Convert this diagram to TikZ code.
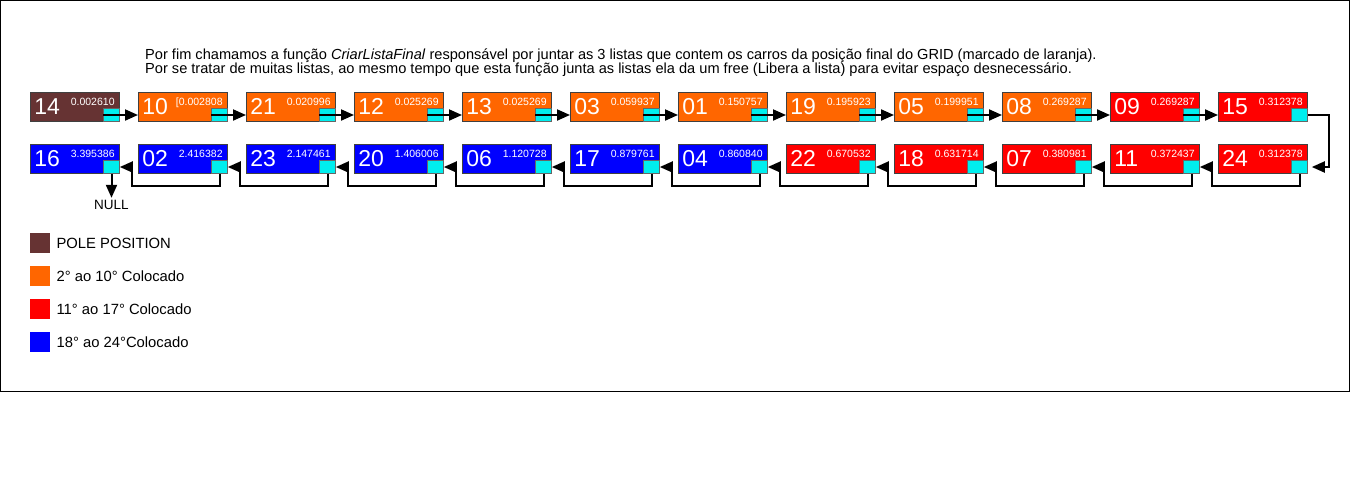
\documentclass[tikz,border=0pt]{standalone}
\usepackage{fontspec}
\setmainfont{Liberation Sans}
\usetikzlibrary{arrows.meta,positioning}

\definecolor{corpole}{RGB}{102,51,51}
\definecolor{corlaranja}{RGB}{255,102,0}
\definecolor{corvermelho}{RGB}{255,0,0}
\definecolor{corazul}{RGB}{0,0,255}
\definecolor{corcyan}{RGB}{0,238,238}

\begin{document}
\begin{tikzpicture}[x=1pt,y=-1pt,
  carro/.style={draw=black!75, line width=0.8pt, anchor=north west,
    minimum width=89pt, minimum height=29pt, inner xsep=4pt, inner ysep=0pt,
    text width=81pt, align=left, text=white, font=\fontsize{23}{23}\selectfont},
  valor/.style={anchor=north east, inner sep=0pt, text=white,
    font=\fontsize{10.5}{10.5}\selectfont},
  ponteiro/.style={draw=black!60, line width=0.6pt, fill=corcyan, anchor=south east,
    minimum width=16pt, minimum height=13pt, inner sep=0pt},
  ligacao/.style={line width=2pt, -{Triangle[length=13pt,width=11pt]}},
  legenda/.style={minimum size=20pt, inner sep=0pt, anchor=north west},
  texto/.style={inner sep=0pt, font=\fontsize{14.8}{14.8}\selectfont},
  cabec/.style={inner sep=0pt, anchor=base west, font=\fontsize{14.6}{14.6}\selectfont}]

% Parametros
\def\xini{30}    % x da primeira caixa
\def\passo{108}  % distancia entre caixas
\def\ytopo{92}   % linha de cima
\def\ybase{144}  % linha de baixo

% Moldura
\useasboundingbox (0,0) rectangle (1350,491);
\draw[line width=1pt] (0.5,0.5) rectangle (1349.5,391.5);

% Texto
\node[cabec] (linha1) at (145,59) {Por fim chamamos a função \textit{CriarListaFinal} responsável por juntar as 3 listas que contem os carros da posição final do GRID (marcado de laranja).};
\node[cabec] (linha2) at (145,73) {Por se tratar de muitas listas, ao mesmo tempo que esta função junta as listas ela da um free (Libera a lista) para evitar espaço desnecessário.};

% Lista de cima
\foreach \num/\val/\cor [count=\i from 0] in {14/0.002610/corpole, 10/{[0.002808}/corlaranja,
    21/0.020996/corlaranja, 12/0.025269/corlaranja, 13/0.025269/corlaranja,
    03/0.059937/corlaranja, 01/0.150757/corlaranja, 19/0.195923/corlaranja,
    05/0.199951/corlaranja, 08/0.269287/corlaranja, 09/0.269287/corvermelho,
    15/0.312378/corvermelho} {
  \node[carro, fill=\cor] (t\i) at (\xini+\i*\passo,\ytopo) {\num};
  \node[valor] (vt\i) at ([xshift=-5pt,yshift=-6pt]t\i.north east) {\val};
  \node[ponteiro] (pt\i) at (t\i.south east) {};
}

% Lista de baixo
\foreach \num/\val/\cor [count=\i from 0] in {16/3.395386/corazul, 02/2.416382/corazul,
    23/2.147461/corazul, 20/1.406006/corazul, 06/1.120728/corazul,
    17/0.879761/corazul, 04/0.860840/corazul, 22/0.670532/corvermelho,
    18/0.631714/corvermelho, 07/0.380981/corvermelho, 11/0.372437/corvermelho,
    24/0.312378/corvermelho} {
  \node[carro, fill=\cor] (b\i) at (\xini+\i*\passo,\ybase) {\num};
  \node[valor] (vb\i) at ([xshift=-5pt,yshift=-6pt]b\i.north east) {\val};
  \node[ponteiro] (pb\i) at (b\i.south east) {};
}

% Ligacoes de cima
\foreach \i [evaluate=\i as \j using {int(\i+1)}] in {0,...,10}
  \draw[ligacao] (pt\i.west) -- (pt\i.west -| t\j.west);

% Virada
\draw[ligacao] (pt11.east) -- ++(21,0) |- ([xshift=4pt]pb11.east);

% Ligacoes de baixo
\foreach \i [evaluate=\i as \j using {int(\i-1)}] in {1,...,11}
  \draw[ligacao] (pb\i.south) -- ++(0,12) -| ([xshift=12pt]pb\j.east) -- (pb\j.east);

% NULL
\node[texto, inner sep=2pt, anchor=north, font=\fontsize{13.5}{13.5}\selectfont] (nulo) at ([yshift=-24pt]pb0.south) {NULL};
\draw[ligacao] (pb0.south) -- (nulo.north);

% Legenda
\foreach \cor/\txt [count=\k] in {corpole/POLE POSITION, corlaranja/2° ao 10° Colocado,
    corvermelho/11° ao 17° Colocado, corazul/18° ao 24°Colocado} {
  \node[legenda, fill=\cor] (l\k) at (30,233+\k*33-33) {};
  \node[texto, right=6pt of l\k] (lt\k) {\txt};
}

\end{tikzpicture}
\end{document}
